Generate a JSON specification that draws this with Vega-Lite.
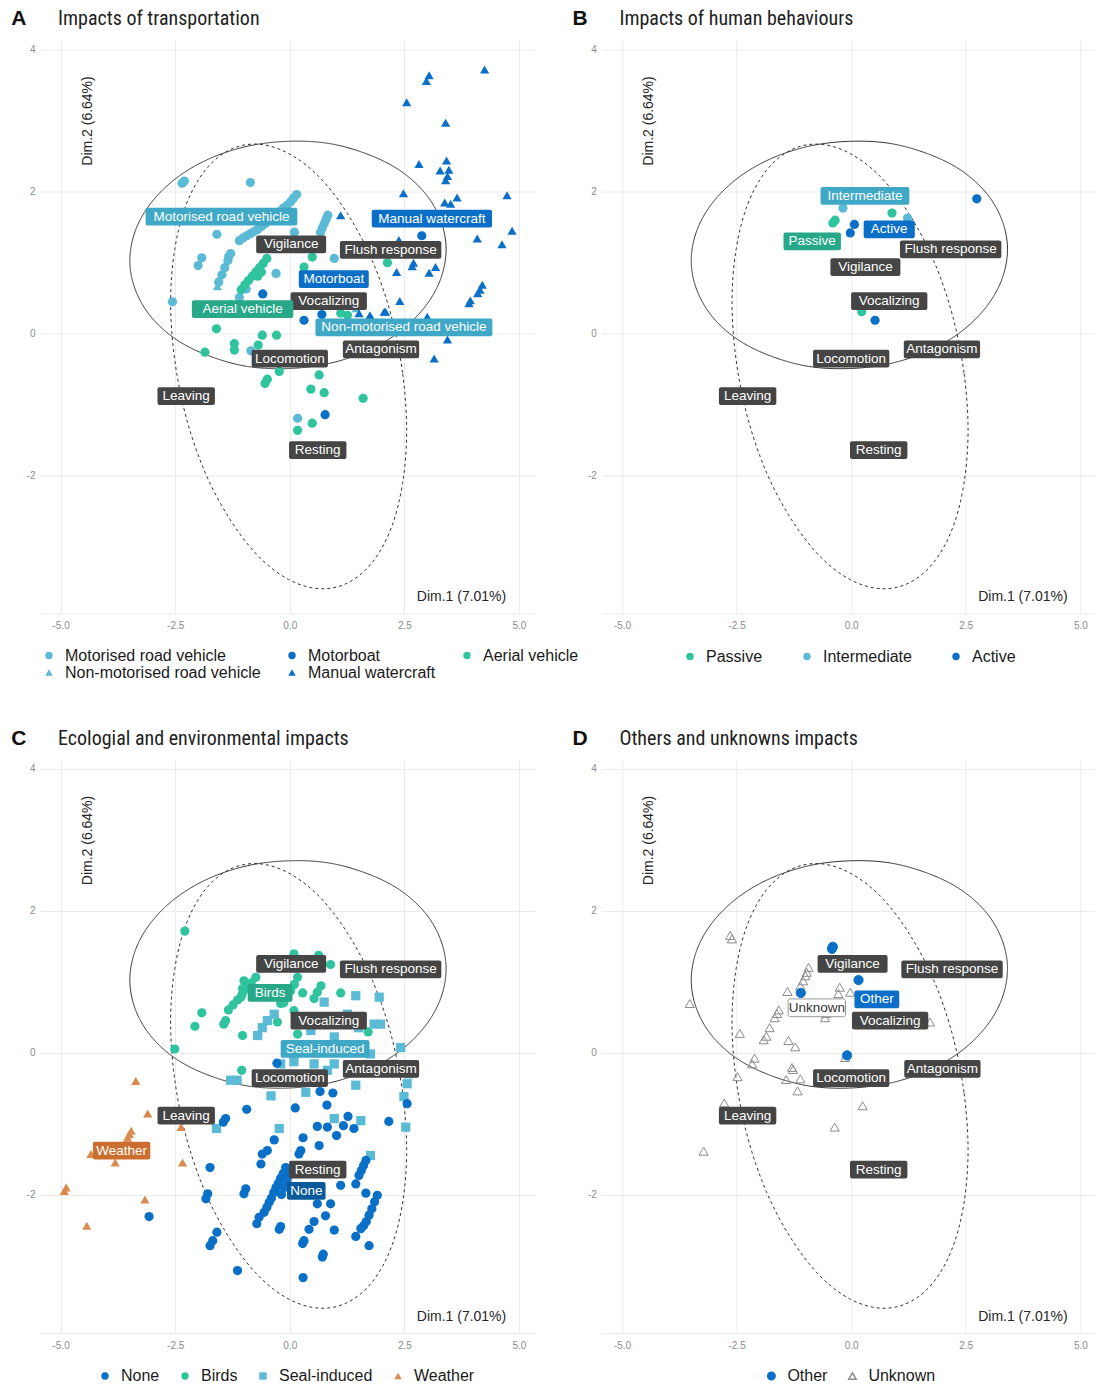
{
"$schema": "https://vega.github.io/schema/vega-lite/v6.json",
"background": "white",
"padding": {"left": 11, "top": 7.5, "right": 0, "bottom": 0},
"bounds": "flush",
"columns": 2,
"spacing": {"row": 146.5, "column": 66.4},
"config": {
  "font": "Liberation Sans",
  "view": {"stroke": null},
  "axis": {"grid": true, "gridColor": "#ebebeb", "gridWidth": 1, "domain": false, "ticks": false, "labelColor": "#8c8c8c", "labelFontSize": 10, "labelFont": "Liberation Sans", "titleFont": "Liberation Sans", "titleFontSize": 14, "titleFontWeight": "normal", "titleColor": "#262626", "labelPadding": 5},
  "axisX": {"domain": true, "domainColor": "#ebebeb", "labelPadding": 7},
  "legend": {"orient": "none", "direction": "horizontal", "labelFontSize": 16, "labelColor": "#1a1a1a", "labelFont": "Liberation Sans", "symbolSize": 55, "labelOffset": 8, "padding": 0, "rowPadding": 2, "labelLimit": 400}
},
"resolve": {"scale": {"x": "independent", "y": "independent", "color": "independent", "shape": "independent", "fill": "independent", "stroke": "independent", "strokeDash": "independent"}},
"datasets": {
  "T": [{"p":"A","k":"A","t":"Impacts of transportation"},{"p":"B","k":"B","t":"Impacts of human behaviours"},{"p":"C","k":"C","t":"Ecologial and environmental impacts"},{"p":"D","k":"D","t":"Others and unknowns impacts"}],
  "ell": [
    {"e":"s","o":0,"x":3.41,"y":1.18},{"e":"s","o":1,"x":3.29,"y":1.59},{"e":"s","o":2,"x":2.95,"y":1.97},{"e":"s","o":3,"x":2.40,"y":2.29},{"e":"s","o":4,"x":1.69,"y":2.52},{"e":"s","o":5,"x":0.85,"y":2.67},{"e":"s","o":6,"x":-0.04,"y":2.70},{"e":"s","o":7,"x":-0.93,"y":2.63},{"e":"s","o":8,"x":-1.77,"y":2.45},{"e":"s","o":9,"x":-2.48,"y":2.18},{"e":"s","o":10,"x":-3.03,"y":1.83},{"e":"s","o":11,"x":-3.37,"y":1.44},{"e":"s","o":12,"x":-3.49,"y":1.02},{"e":"s","o":13,"x":-3.37,"y":0.61},{"e":"s","o":14,"x":-3.03,"y":0.23},{"e":"s","o":15,"x":-2.48,"y":-0.09},{"e":"s","o":16,"x":-1.77,"y":-0.32},{"e":"s","o":17,"x":-0.93,"y":-0.47},{"e":"s","o":18,"x":-0.04,"y":-0.50},{"e":"s","o":19,"x":0.85,"y":-0.43},{"e":"s","o":20,"x":1.69,"y":-0.25},{"e":"s","o":21,"x":2.40,"y":0.02},{"e":"s","o":22,"x":2.95,"y":0.37},{"e":"s","o":23,"x":3.29,"y":0.76},
    {"e":"d","o":0,"x":2.55,"y":-1.37},{"e":"d","o":1,"x":2.46,"y":-0.56},{"e":"d","o":2,"x":2.21,"y":0.25},{"e":"d","o":3,"x":1.80,"y":1.02},{"e":"d","o":4,"x":1.26,"y":1.68},{"e":"d","o":5,"x":0.64,"y":2.20},{"e":"d","o":6,"x":-0.03,"y":2.53},{"e":"d","o":7,"x":-0.69,"y":2.66},{"e":"d","o":8,"x":-1.31,"y":2.58},{"e":"d","o":9,"x":-1.85,"y":2.29},{"e":"d","o":10,"x":-2.26,"y":1.81},{"e":"d","o":11,"x":-2.51,"y":1.18},{"e":"d","o":12,"x":-2.60,"y":0.43},{"e":"d","o":13,"x":-2.51,"y":-0.38},{"e":"d","o":14,"x":-2.26,"y":-1.19},{"e":"d","o":15,"x":-1.85,"y":-1.96},{"e":"d","o":16,"x":-1.31,"y":-2.62},{"e":"d","o":17,"x":-0.69,"y":-3.14},{"e":"d","o":18,"x":-0.03,"y":-3.47},{"e":"d","o":19,"x":0.64,"y":-3.60},{"e":"d","o":20,"x":1.26,"y":-3.52},{"e":"d","o":21,"x":1.80,"y":-3.23},{"e":"d","o":22,"x":2.21,"y":-2.75},{"e":"d","o":23,"x":2.46,"y":-2.12}
  ],
  "A": [
    {"x":-2.35,"y":2.11,"c":"Motorised road vehicle"},{"x":-2.3,"y":2.14,"c":"Motorised road vehicle"},{"x":-0.86,"y":2.12,"c":"Motorised road vehicle"},{"x":0.15,"y":1.95,"c":"Motorised road vehicle"},{"x":0.08,"y":1.9,"c":"Motorised road vehicle"},{"x":0.02,"y":1.85,"c":"Motorised road vehicle"},{"x":-0.06,"y":1.8,"c":"Motorised road vehicle"},{"x":-0.14,"y":1.76,"c":"Motorised road vehicle"},{"x":-0.22,"y":1.71,"c":"Motorised road vehicle"},{"x":-0.3,"y":1.66,"c":"Motorised road vehicle"},{"x":-0.38,"y":1.62,"c":"Motorised road vehicle"},{"x":-0.46,"y":1.58,"c":"Motorised road vehicle"},{"x":-0.54,"y":1.54,"c":"Motorised road vehicle"},{"x":-0.62,"y":1.5,"c":"Motorised road vehicle"},{"x":-0.7,"y":1.46,"c":"Motorised road vehicle"},{"x":-0.78,"y":1.43,"c":"Motorised road vehicle"},{"x":-0.86,"y":1.4,"c":"Motorised road vehicle"},{"x":-0.94,"y":1.37,"c":"Motorised road vehicle"},{"x":-1.02,"y":1.34,"c":"Motorised road vehicle"},{"x":-1.1,"y":1.3,"c":"Motorised road vehicle"},{"x":0.83,"y":1.66,"c":"Motorised road vehicle"},{"x":0.79,"y":1.6,"c":"Motorised road vehicle"},{"x":0.75,"y":1.54,"c":"Motorised road vehicle"},{"x":0.71,"y":1.48,"c":"Motorised road vehicle"},{"x":0.67,"y":1.42,"c":"Motorised road vehicle"},{"x":0.1,"y":1.42,"c":"Motorised road vehicle"},{"x":-1.59,"y":1.39,"c":"Motorised road vehicle"},{"x":-1.92,"y":1.06,"c":"Motorised road vehicle"},{"x":-2.0,"y":0.95,"c":"Motorised road vehicle"},{"x":-1.33,"y":1.08,"c":"Motorised road vehicle"},{"x":-1.29,"y":1.12,"c":"Motorised road vehicle"},{"x":-1.35,"y":1.02,"c":"Motorised road vehicle"},{"x":-1.42,"y":0.92,"c":"Motorised road vehicle"},{"x":-1.48,"y":0.82,"c":"Motorised road vehicle"},{"x":-1.55,"y":0.72,"c":"Motorised road vehicle"},{"x":-2.56,"y":0.44,"c":"Motorised road vehicle"},{"x":-0.3,"y":0.84,"c":"Motorised road vehicle"},{"x":0.97,"y":1.05,"c":"Motorised road vehicle"},{"x":-0.85,"y":-0.25,"c":"Motorised road vehicle"},{"x":0.17,"y":-1.2,"c":"Motorised road vehicle"},{"x":-1.1,"y":0.5,"c":"Motorised road vehicle"},{"x":-0.95,"y":0.62,"c":"Motorised road vehicle"},
    {"x":-1.58,"y":0.66,"c":"Non-motorised road vehicle"},{"x":1.45,"y":0.35,"c":"Non-motorised road vehicle"},
    {"x":-0.5,"y":1.05,"c":"Aerial vehicle"},{"x":-0.58,"y":0.98,"c":"Aerial vehicle"},{"x":-0.66,"y":0.92,"c":"Aerial vehicle"},{"x":-0.74,"y":0.86,"c":"Aerial vehicle"},{"x":-0.82,"y":0.8,"c":"Aerial vehicle"},{"x":-0.9,"y":0.74,"c":"Aerial vehicle"},{"x":-0.98,"y":0.68,"c":"Aerial vehicle"},{"x":-1.06,"y":0.61,"c":"Aerial vehicle"},{"x":-0.7,"y":0.8,"c":"Aerial vehicle"},{"x":-0.62,"y":0.86,"c":"Aerial vehicle"},{"x":0.49,"y":1.07,"c":"Aerial vehicle"},{"x":0.31,"y":0.93,"c":"Aerial vehicle"},{"x":2.13,"y":0.99,"c":"Aerial vehicle"},{"x":1.11,"y":0.28,"c":"Aerial vehicle"},{"x":1.26,"y":0.25,"c":"Aerial vehicle"},{"x":-1.6,"y":0.06,"c":"Aerial vehicle"},{"x":-0.6,"y":-0.03,"c":"Aerial vehicle"},{"x":-0.29,"y":-0.03,"c":"Aerial vehicle"},{"x":-1.21,"y":-0.15,"c":"Aerial vehicle"},{"x":-1.21,"y":-0.24,"c":"Aerial vehicle"},{"x":-0.69,"y":-0.17,"c":"Aerial vehicle"},{"x":-1.85,"y":-0.27,"c":"Aerial vehicle"},{"x":-0.23,"y":-0.54,"c":"Aerial vehicle"},{"x":-0.49,"y":-0.65,"c":"Aerial vehicle"},{"x":-0.54,"y":-0.71,"c":"Aerial vehicle"},{"x":0.64,"y":-0.59,"c":"Aerial vehicle"},{"x":0.46,"y":-0.79,"c":"Aerial vehicle"},{"x":0.75,"y":-0.84,"c":"Aerial vehicle"},{"x":1.6,"y":-0.92,"c":"Aerial vehicle"},{"x":0.49,"y":-1.27,"c":"Aerial vehicle"},{"x":0.17,"y":-1.37,"c":"Aerial vehicle"},{"x":-1.3,"y":0.4,"c":"Aerial vehicle"},{"x":-1.15,"y":0.3,"c":"Aerial vehicle"},
    {"x":-0.59,"y":0.55,"c":"Motorboat"},{"x":2.88,"y":1.37,"c":"Motorboat"},{"x":0.31,"y":0.18,"c":"Motorboat"},{"x":0.7,"y":0.26,"c":"Motorboat"},{"x":0.77,"y":-1.15,"c":"Motorboat"},
    {"x":4.25,"y":3.71,"c":"Manual watercraft"},{"x":3.04,"y":3.63,"c":"Manual watercraft"},{"x":2.98,"y":3.55,"c":"Manual watercraft"},{"x":2.55,"y":3.25,"c":"Manual watercraft"},{"x":3.4,"y":2.96,"c":"Manual watercraft"},{"x":2.82,"y":2.38,"c":"Manual watercraft"},{"x":3.42,"y":2.43,"c":"Manual watercraft"},{"x":3.47,"y":2.3,"c":"Manual watercraft"},{"x":3.28,"y":2.29,"c":"Manual watercraft"},{"x":3.44,"y":2.21,"c":"Manual watercraft"},{"x":3.4,"y":2.15,"c":"Manual watercraft"},{"x":2.48,"y":1.97,"c":"Manual watercraft"},{"x":3.38,"y":1.84,"c":"Manual watercraft"},{"x":3.51,"y":1.82,"c":"Manual watercraft"},{"x":3.65,"y":1.91,"c":"Manual watercraft"},{"x":4.74,"y":1.94,"c":"Manual watercraft"},{"x":4.85,"y":1.44,"c":"Manual watercraft"},{"x":4.09,"y":1.33,"c":"Manual watercraft"},{"x":4.63,"y":1.25,"c":"Manual watercraft"},{"x":1.11,"y":1.66,"c":"Manual watercraft"},{"x":2.38,"y":1.31,"c":"Manual watercraft"},{"x":2.7,"y":0.99,"c":"Manual watercraft"},{"x":2.67,"y":0.94,"c":"Manual watercraft"},{"x":3.18,"y":0.93,"c":"Manual watercraft"},{"x":3.04,"y":0.85,"c":"Manual watercraft"},{"x":2.33,"y":0.86,"c":"Manual watercraft"},{"x":4.2,"y":0.68,"c":"Manual watercraft"},{"x":4.15,"y":0.61,"c":"Manual watercraft"},{"x":4.1,"y":0.56,"c":"Manual watercraft"},{"x":3.94,"y":0.46,"c":"Manual watercraft"},{"x":3.91,"y":0.42,"c":"Manual watercraft"},{"x":2.4,"y":0.45,"c":"Manual watercraft"},{"x":2.09,"y":0.3,"c":"Manual watercraft"},{"x":3.0,"y":0.23,"c":"Manual watercraft"},{"x":3.44,"y":-0.09,"c":"Manual watercraft"},{"x":3.15,"y":-0.36,"c":"Manual watercraft"},{"x":1.51,"y":0.28,"c":"Manual watercraft"},{"x":2.06,"y":0.3,"c":"Manual watercraft"},{"x":1.75,"y":0.25,"c":"Manual watercraft"}
  ],
  "B": [
    {"x":0.89,"y":1.69,"c":"Passive"},{"x":-0.35,"y":1.59,"c":"Passive"},{"x":-0.4,"y":1.55,"c":"Passive"},{"x":0.23,"y":0.3,"c":"Passive"},
    {"x":-0.18,"y":1.76,"c":"Intermediate"},{"x":1.23,"y":1.62,"c":"Intermediate"},
    {"x":2.74,"y":1.89,"c":"Active"},{"x":0.07,"y":1.53,"c":"Active"},{"x":-0.02,"y":1.41,"c":"Active"},{"x":0.52,"y":0.18,"c":"Active"}
  ],
  "C": [
    {"x":-2.29,"y":1.71,"c":"Birds"},{"x":-2.51,"y":0.05,"c":"Birds"},{"x":-1.92,"y":0.56,"c":"Birds"},{"x":-2.07,"y":0.37,"c":"Birds"},{"x":-1.44,"y":0.4,"c":"Birds"},{"x":-1.4,"y":0.45,"c":"Birds"},{"x":-1.03,"y":0.24,"c":"Birds"},{"x":-0.74,"y":1.06,"c":"Birds"},{"x":-0.84,"y":0.98,"c":"Birds"},{"x":-0.94,"y":0.9,"c":"Birds"},{"x":-1.04,"y":0.82,"c":"Birds"},{"x":-1.14,"y":0.74,"c":"Birds"},{"x":-1.24,"y":0.67,"c":"Birds"},{"x":-1.34,"y":0.6,"c":"Birds"},{"x":-1.0,"y":1.01,"c":"Birds"},{"x":-1.03,"y":0.9,"c":"Birds"},{"x":-1.07,"y":0.78,"c":"Birds"},{"x":-0.63,"y":1.19,"c":"Birds"},{"x":0.09,"y":1.39,"c":"Birds"},{"x":0.89,"y":1.24,"c":"Birds"},{"x":0.17,"y":1.06,"c":"Birds"},{"x":0.1,"y":0.96,"c":"Birds"},{"x":0.02,"y":0.87,"c":"Birds"},{"x":-0.06,"y":0.78,"c":"Birds"},{"x":-0.13,"y":0.7,"c":"Birds"},{"x":-0.2,"y":0.69,"c":"Birds"},{"x":0.68,"y":0.94,"c":"Birds"},{"x":0.6,"y":0.85,"c":"Birds"},{"x":0.53,"y":0.76,"c":"Birds"},{"x":0.28,"y":0.84,"c":"Birds"},{"x":1.11,"y":0.84,"c":"Birds"},{"x":0.09,"y":0.59,"c":"Birds"},{"x":-0.27,"y":0.43,"c":"Birds"},{"x":0.17,"y":0.26,"c":"Birds"},{"x":1.71,"y":0.29,"c":"Birds"},{"x":-1.05,"y":-0.25,"c":"Birds"},{"x":0.63,"y":1.37,"c":"Birds"},{"x":-0.3,"y":1.25,"c":"Birds"},
    {"x":0.75,"y":0.71,"c":"Seal-induced"},{"x":1.44,"y":0.8,"c":"Seal-induced"},{"x":1.95,"y":0.78,"c":"Seal-induced"},{"x":-0.49,"y":0.45,"c":"Seal-induced"},{"x":-0.6,"y":0.35,"c":"Seal-induced"},{"x":-0.7,"y":0.24,"c":"Seal-induced"},{"x":-0.34,"y":0.54,"c":"Seal-induced"},{"x":0.46,"y":0.31,"c":"Seal-induced"},{"x":0.97,"y":0.22,"c":"Seal-induced"},{"x":1.26,"y":0.54,"c":"Seal-induced"},{"x":1.84,"y":0.4,"c":"Seal-induced"},{"x":1.98,"y":0.4,"c":"Seal-induced"},{"x":2.42,"y":0.07,"c":"Seal-induced"},{"x":1.76,"y":-0.02,"c":"Seal-induced"},{"x":0.09,"y":-0.02,"c":"Seal-induced"},{"x":0.53,"y":-0.16,"c":"Seal-induced"},{"x":0.82,"y":-0.25,"c":"Seal-induced"},{"x":1.55,"y":0.03,"c":"Seal-induced"},{"x":-1.29,"y":-0.39,"c":"Seal-induced"},{"x":-1.15,"y":-0.39,"c":"Seal-induced"},{"x":-0.41,"y":-0.61,"c":"Seal-induced"},{"x":0.35,"y":-0.56,"c":"Seal-induced"},{"x":1.44,"y":-0.46,"c":"Seal-induced"},{"x":2.56,"y":-0.44,"c":"Seal-induced"},{"x":2.49,"y":-0.62,"c":"Seal-induced"},{"x":2.6,"y":-0.3,"c":"Seal-induced"},{"x":0.97,"y":-0.93,"c":"Seal-induced"},{"x":1.55,"y":-0.96,"c":"Seal-induced"},{"x":-0.23,"y":-1.07,"c":"Seal-induced"},{"x":-1.6,"y":-1.07,"c":"Seal-induced"},{"x":2.53,"y":-1.05,"c":"Seal-induced"},{"x":1.76,"y":-1.45,"c":"Seal-induced"},{"x":-0.2,"y":-0.16,"c":"Seal-induced"},{"x":0.09,"y":-0.13,"c":"Seal-induced"},{"x":0.97,"y":-0.16,"c":"Seal-induced"},{"x":0.3,"y":0.1,"c":"Seal-induced"},{"x":1.2,"y":0.1,"c":"Seal-induced"},{"x":1.5,"y":0.35,"c":"Seal-induced"},{"x":0.7,"y":0.45,"c":"Seal-induced"},
    {"x":-0.28,"y":-0.15,"c":"None"},{"x":0.66,"y":-0.55,"c":"None"},{"x":0.94,"y":-0.57,"c":"None"},{"x":2.56,"y":-0.72,"c":"None"},{"x":-0.94,"y":-0.8,"c":"None"},{"x":0.12,"y":-0.78,"c":"None"},{"x":0.81,"y":-0.74,"c":"None"},{"x":-1.45,"y":-0.98,"c":"None"},{"x":-1.4,"y":-0.93,"c":"None"},{"x":2.16,"y":-0.97,"c":"None"},{"x":0.6,"y":-1.04,"c":"None"},{"x":0.82,"y":-1.05,"c":"None"},{"x":1.02,"y":-1.17,"c":"None"},{"x":1.27,"y":-0.9,"c":"None"},{"x":1.17,"y":-1.03,"c":"None"},{"x":1.4,"y":-1.07,"c":"None"},{"x":-0.34,"y":-1.23,"c":"None"},{"x":0.29,"y":-1.2,"c":"None"},{"x":0.64,"y":-1.31,"c":"None"},{"x":-0.6,"y":-1.43,"c":"None"},{"x":-0.49,"y":-1.38,"c":"None"},{"x":0.2,"y":-1.43,"c":"None"},{"x":0.24,"y":-1.38,"c":"None"},{"x":-0.63,"y":-1.57,"c":"None"},{"x":-1.74,"y":-1.62,"c":"None"},{"x":-0.09,"y":-1.62,"c":"None"},{"x":-0.14,"y":-1.7,"c":"None"},{"x":-0.2,"y":-1.77,"c":"None"},{"x":-0.25,"y":-1.84,"c":"None"},{"x":-0.3,"y":-1.9,"c":"None"},{"x":-0.35,"y":-1.97,"c":"None"},{"x":-0.4,"y":-2.05,"c":"None"},{"x":-0.45,"y":-2.11,"c":"None"},{"x":-0.5,"y":-2.18,"c":"None"},{"x":-0.56,"y":-2.25,"c":"None"},{"x":0.0,"y":-1.72,"c":"None"},{"x":-0.06,"y":-1.8,"c":"None"},{"x":-0.12,"y":-1.9,"c":"None"},{"x":-0.18,"y":-2.0,"c":"None"},{"x":-0.96,"y":-1.92,"c":"None"},{"x":-1.0,"y":-1.99,"c":"None"},{"x":-1.79,"y":-1.99,"c":"None"},{"x":-1.83,"y":-2.06,"c":"None"},{"x":-3.07,"y":-2.31,"c":"None"},{"x":1.11,"y":-1.87,"c":"None"},{"x":1.44,"y":-1.85,"c":"None"},{"x":1.66,"y":-1.52,"c":"None"},{"x":1.61,"y":-1.59,"c":"None"},{"x":1.56,"y":-1.66,"c":"None"},{"x":1.51,"y":-1.73,"c":"None"},{"x":1.91,"y":-2.01,"c":"None"},{"x":1.85,"y":-2.1,"c":"None"},{"x":1.79,"y":-2.2,"c":"None"},{"x":1.73,"y":-2.29,"c":"None"},{"x":1.67,"y":-2.38,"c":"None"},{"x":1.61,"y":-2.44,"c":"None"},{"x":1.55,"y":-2.48,"c":"None"},{"x":1.66,"y":-1.98,"c":"None"},{"x":0.89,"y":-2.13,"c":"None"},{"x":0.78,"y":-2.3,"c":"None"},{"x":0.6,"y":-2.13,"c":"None"},{"x":0.53,"y":-2.38,"c":"None"},{"x":0.42,"y":-2.49,"c":"None"},{"x":0.97,"y":-2.5,"c":"None"},{"x":1.44,"y":-2.59,"c":"None"},{"x":1.73,"y":-2.72,"c":"None"},{"x":0.31,"y":-2.65,"c":"None"},{"x":0.28,"y":-2.69,"c":"None"},{"x":0.73,"y":-2.84,"c":"None"},{"x":0.71,"y":-2.88,"c":"None"},{"x":-0.2,"y":-2.45,"c":"None"},{"x":-0.23,"y":-2.49,"c":"None"},{"x":-0.67,"y":-2.32,"c":"None"},{"x":-0.72,"y":-2.41,"c":"None"},{"x":-1.59,"y":-2.53,"c":"None"},{"x":-1.68,"y":-2.65,"c":"None"},{"x":-1.74,"y":-2.72,"c":"None"},{"x":-1.14,"y":-3.07,"c":"None"},{"x":0.29,"y":-3.17,"c":"None"},
    {"x":-3.36,"y":-0.4,"c":"Weather"},{"x":-3.1,"y":-0.86,"c":"Weather"},{"x":-2.37,"y":-1.05,"c":"Weather"},{"x":-3.46,"y":-1.1,"c":"Weather"},{"x":-3.5,"y":-1.15,"c":"Weather"},{"x":-3.54,"y":-1.2,"c":"Weather"},{"x":-4.34,"y":-1.43,"c":"Weather"},{"x":-3.81,"y":-1.55,"c":"Weather"},{"x":-2.34,"y":-1.55,"c":"Weather"},{"x":-4.88,"y":-1.9,"c":"Weather"},{"x":-4.92,"y":-1.95,"c":"Weather"},{"x":-3.16,"y":-2.07,"c":"Weather"},{"x":-4.43,"y":-2.44,"c":"Weather"}
  ],
  "D": [
    {"x":-2.64,"y":1.65,"c":"Unknown"},{"x":-2.6,"y":1.6,"c":"Unknown"},{"x":-3.52,"y":0.69,"c":"Unknown"},{"x":-0.93,"y":1.2,"c":"Unknown"},{"x":-0.97,"y":1.13,"c":"Unknown"},{"x":-1.0,"y":1.08,"c":"Unknown"},{"x":-1.05,"y":1.01,"c":"Unknown"},{"x":-1.11,"y":0.94,"c":"Unknown"},{"x":-1.39,"y":0.86,"c":"Unknown"},{"x":-0.25,"y":0.92,"c":"Unknown"},{"x":-0.02,"y":0.85,"c":"Unknown"},{"x":-0.28,"y":0.83,"c":"Unknown"},{"x":-1.58,"y":0.6,"c":"Unknown"},{"x":-1.62,"y":0.55,"c":"Unknown"},{"x":-1.67,"y":0.49,"c":"Unknown"},{"x":-0.57,"y":0.49,"c":"Unknown"},{"x":-0.55,"y":0.55,"c":"Unknown"},{"x":-1.78,"y":0.35,"c":"Unknown"},{"x":-2.43,"y":0.27,"c":"Unknown"},{"x":-1.85,"y":0.23,"c":"Unknown"},{"x":-1.91,"y":0.18,"c":"Unknown"},{"x":-1.37,"y":0.17,"c":"Unknown"},{"x":-1.22,"y":0.08,"c":"Unknown"},{"x":1.72,"y":0.43,"c":"Unknown"},{"x":-2.11,"y":-0.08,"c":"Unknown"},{"x":-2.16,"y":-0.16,"c":"Unknown"},{"x":-1.29,"y":-0.21,"c":"Unknown"},{"x":-1.27,"y":-0.24,"c":"Unknown"},{"x":-2.48,"y":-0.34,"c":"Unknown"},{"x":-1.42,"y":-0.38,"c":"Unknown"},{"x":-1.11,"y":-0.37,"c":"Unknown"},{"x":-1.17,"y":-0.54,"c":"Unknown"},{"x":-0.13,"y":-0.07,"c":"Unknown"},{"x":0.25,"y":-0.75,"c":"Unknown"},{"x":-2.77,"y":-0.71,"c":"Unknown"},{"x":-0.36,"y":-1.05,"c":"Unknown"},{"x":-3.22,"y":-1.39,"c":"Unknown"},
    {"x":-0.4,"y":1.49,"c":"Other"},{"x":-0.42,"y":1.46,"c":"Other"},{"x":0.16,"y":1.02,"c":"Other"},{"x":-1.1,"y":0.84,"c":"Other"},{"x":-0.09,"y":-0.04,"c":"Other"}
  ],
  "LA": [{"t":"Motorised road vehicle","x":-1.49,"y":1.64},{"t":"Vigilance","x":0.03,"y":1.25},{"t":"Flush response","x":2.2,"y":1.17},{"t":"Manual watercraft","x":3.1,"y":1.61},{"t":"Motorboat","x":0.96,"y":0.76},{"t":"Vocalizing","x":0.85,"y":0.45},{"t":"Aerial vehicle","x":-1.03,"y":0.335},{"t":"Non-motorised road vehicle","x":2.49,"y":0.08},{"t":"Antagonism","x":1.99,"y":-0.23},{"t":"Locomotion","x":0.0,"y":-0.36},{"t":"Leaving","x":-2.26,"y":-0.89},{"t":"Resting","x":0.61,"y":-1.65}],
  "LB": [{"t":"Intermediate","x":0.3,"y":1.93},{"t":"Active","x":0.83,"y":1.46},{"t":"Passive","x":-0.85,"y":1.29},{"t":"Vigilance","x":0.31,"y":0.93},{"t":"Flush response","x":2.17,"y":1.18},{"t":"Vocalizing","x":0.83,"y":0.45},{"t":"Antagonism","x":1.98,"y":-0.23},{"t":"Locomotion","x":0.0,"y":-0.36},{"t":"Leaving","x":-2.26,"y":-0.89},{"t":"Resting","x":0.6,"y":-1.65}],
  "LC": [{"t":"Vigilance","x":0.03,"y":1.25},{"t":"Flush response","x":2.2,"y":1.17},{"t":"Birds","x":-0.43,"y":0.84},{"t":"Vocalizing","x":0.85,"y":0.45},{"t":"Seal-induced","x":0.77,"y":0.05},{"t":"Antagonism","x":1.99,"y":-0.23},{"t":"Locomotion","x":0.0,"y":-0.36},{"t":"Leaving","x":-2.26,"y":-0.89},{"t":"Weather","x":-3.67,"y":-1.38},{"t":"Resting","x":0.61,"y":-1.65},{"t":"None","x":0.36,"y":-1.95}],
  "LD": [{"t":"Vigilance","x":0.03,"y":1.25},{"t":"Flush response","x":2.2,"y":1.17},{"t":"Other","x":0.56,"y":0.75},{"t":"Unknown","x":-0.75,"y":0.63},{"t":"Vocalizing","x":0.85,"y":0.45},{"t":"Antagonism","x":1.99,"y":-0.23},{"t":"Locomotion","x":0.0,"y":-0.36},{"t":"Leaving","x":-2.26,"y":-0.89},{"t":"Resting","x":0.6,"y":-1.65}]
},
"concat": [
  {
    "width": 495, "height": 573,
    "layer": [
      {
        "encoding": {
          "x": {"field": "x", "type": "quantitative", "scale": {"domain": [-5.45, 5.35], "nice": false, "zero": false}, "axis": {"values": [-5, -2.5, 0, 2.5, 5], "format": ".1f", "labelExpr": "replace(datum.label, '\u2212', '-')", "title": "Dim.1 (7.01%)", "titleX": 421, "titleY": -17, "titleAlign": "center", "titleBaseline": "middle"}},
          "y": {"field": "y", "type": "quantitative", "scale": {"domain": [-3.95, 4.12], "nice": false, "zero": false}, "axis": {"values": [-2, 0, 2, 4], "format": "d", "labelExpr": "replace(datum.label, '\u2212', '-')", "title": "Dim.2 (6.64%)", "titleX": 47, "titleY": 80, "titleAngle": 270, "titleAlign": "center", "titleBaseline": "middle"}}
        },
        "layer": [
          {"data": {"name": "ell"}, "mark": {"type": "line", "interpolate": "cardinal-closed", "color": "#333333", "strokeWidth": 1}, "encoding": {"order": {"field": "o", "type": "quantitative"}, "strokeDash": {"field": "e", "type": "nominal", "scale": {"domain": ["s", "d"], "range": [[1, 0], [3, 3]]}, "legend": null}}},
          {"data": {"name": "A"}, "mark": {"type": "point", "filled": true, "opacity": 1, "size": 85},
           "encoding": {
             "color": {"field": "c", "type": "nominal", "scale": {"domain": ["Motorised road vehicle", "Motorboat", "Aerial vehicle", "Non-motorised road vehicle", "Manual watercraft"], "range": ["#5bbad5", "#0a6fc6", "#2fc49e", "#5bbad5", "#0a6fc6"]}, "legend": {"title": null, "columns": 3, "legendX": 1, "legendY": 607, "columnPadding": 23, "rowPadding": 1}},
             "shape": {"field": "c", "type": "nominal", "scale": {"domain": ["Motorised road vehicle", "Motorboat", "Aerial vehicle", "Non-motorised road vehicle", "Manual watercraft"], "range": ["circle", "circle", "circle", "triangle-up", "triangle-up"]}, "legend": {"title": null, "columns": 3, "legendX": 1, "legendY": 607, "columnPadding": 23, "rowPadding": 1}}
           }},
          {"data": {"name": "LA"}, "transform": [{"calculate": "length(datum.t)*0.0686+0.146", "as": "hw"}, {"calculate": "datum.x-datum.hw", "as": "x1"}, {"calculate": "datum.x+datum.hw", "as": "x2"}, {"calculate": "datum.y-0.125", "as": "y1"}, {"calculate": "datum.y+0.125", "as": "y2"}],
           "mark": {"type": "rect", "cornerRadius": 2},
           "encoding": {"x": {"field": "x1", "type": "quantitative"}, "x2": {"field": "x2"}, "y": {"field": "y1", "type": "quantitative"}, "y2": {"field": "y2"},
             "fill": {"condition": [{"test": "indexof(['Motorised road vehicle','Non-motorised road vehicle','Intermediate','Seal-induced'], datum.t) >= 0", "value": "#3fa8c6"}, {"test": "indexof(['Manual watercraft','Motorboat','Active','Other'], datum.t) >= 0", "value": "#0b6fc8"}, {"test": "indexof(['Aerial vehicle','Passive','Birds'], datum.t) >= 0", "value": "#27a888"}, {"test": "datum.t == 'None'", "value": "#0c5a9c"}, {"test": "datum.t == 'Weather'", "value": "#cb6d2e"}, {"test": "datum.t == 'Unknown'", "value": "#ffffff"}], "value": "#454545"},
             "stroke": {"condition": {"test": "datum.t == 'Unknown'", "value": "#999999"}, "value": "transparent"}}},
          {"data": {"name": "LA"}, "mark": {"type": "text", "fontSize": 13.5}, "encoding": {"text": {"field": "t", "type": "nominal"}, "color": {"condition": {"test": "datum.t == 'Unknown'", "value": "#333333"}, "value": "#ffffff"}}}
        ]
      },
      {"data": {"name": "T"}, "transform": [{"filter": "datum.p == 'A'"}], "mark": {"type": "text", "fontSize": 21, "fontWeight": "bold", "align": "left", "baseline": "middle", "color": "#111111"}, "encoding": {"text": {"field": "k", "type": "nominal"}, "x": {"datum": -6.08}, "y": {"datum": 4.42}}},
      {"data": {"name": "T"}, "transform": [{"filter": "datum.p == 'A'"}], "mark": {"type": "text", "font": "Roboto Condensed, DejaVu Sans Condensed, Roboto", "fontSize": 20, "align": "left", "baseline": "middle", "color": "#222222"}, "encoding": {"text": {"field": "t", "type": "nominal"}, "x": {"datum": -5.057}, "y": {"datum": 4.42}}}
    ]
  },
  {
    "width": 495, "height": 573,
    "layer": [
      {
        "encoding": {
          "x": {"field": "x", "type": "quantitative", "scale": {"domain": [-5.45, 5.35], "nice": false, "zero": false}, "axis": {"values": [-5, -2.5, 0, 2.5, 5], "format": ".1f", "labelExpr": "replace(datum.label, '\u2212', '-')", "title": "Dim.1 (7.01%)", "titleX": 421, "titleY": -17, "titleAlign": "center", "titleBaseline": "middle"}},
          "y": {"field": "y", "type": "quantitative", "scale": {"domain": [-3.95, 4.12], "nice": false, "zero": false}, "axis": {"values": [-2, 0, 2, 4], "format": "d", "labelExpr": "replace(datum.label, '\u2212', '-')", "title": "Dim.2 (6.64%)", "titleX": 47, "titleY": 80, "titleAngle": 270, "titleAlign": "center", "titleBaseline": "middle"}}
        },
        "layer": [
          {"data": {"name": "ell"}, "mark": {"type": "line", "interpolate": "cardinal-closed", "color": "#333333", "strokeWidth": 1}, "encoding": {"order": {"field": "o", "type": "quantitative"}, "strokeDash": {"field": "e", "type": "nominal", "scale": {"domain": ["s", "d"], "range": [[1, 0], [3, 3]]}, "legend": null}}},
          {"data": {"name": "B"}, "mark": {"type": "point", "filled": true, "opacity": 1, "size": 85, "shape": "circle"},
           "encoding": {
             "color": {"field": "c", "type": "nominal", "scale": {"domain": ["Passive", "Intermediate", "Active"], "range": ["#2fc49e", "#5bbad5", "#0a6fc6"]}, "legend": {"title": null, "legendX": 80.6, "legendY": 608, "columnPadding": 36, "symbolType": "circle"}}
           }},
          {"data": {"name": "LB"}, "transform": [{"calculate": "length(datum.t)*0.0686+0.146", "as": "hw"}, {"calculate": "datum.x-datum.hw", "as": "x1"}, {"calculate": "datum.x+datum.hw", "as": "x2"}, {"calculate": "datum.y-0.125", "as": "y1"}, {"calculate": "datum.y+0.125", "as": "y2"}],
           "mark": {"type": "rect", "cornerRadius": 2},
           "encoding": {"x": {"field": "x1", "type": "quantitative"}, "x2": {"field": "x2"}, "y": {"field": "y1", "type": "quantitative"}, "y2": {"field": "y2"},
             "fill": {"condition": [{"test": "indexof(['Motorised road vehicle','Non-motorised road vehicle','Intermediate','Seal-induced'], datum.t) >= 0", "value": "#3fa8c6"}, {"test": "indexof(['Manual watercraft','Motorboat','Active','Other'], datum.t) >= 0", "value": "#0b6fc8"}, {"test": "indexof(['Aerial vehicle','Passive','Birds'], datum.t) >= 0", "value": "#27a888"}, {"test": "datum.t == 'None'", "value": "#0c5a9c"}, {"test": "datum.t == 'Weather'", "value": "#cb6d2e"}, {"test": "datum.t == 'Unknown'", "value": "#ffffff"}], "value": "#454545"},
             "stroke": {"condition": {"test": "datum.t == 'Unknown'", "value": "#999999"}, "value": "transparent"}}},
          {"data": {"name": "LB"}, "mark": {"type": "text", "fontSize": 13.5}, "encoding": {"text": {"field": "t", "type": "nominal"}, "color": {"condition": {"test": "datum.t == 'Unknown'", "value": "#333333"}, "value": "#ffffff"}}}
        ]
      },
      {"data": {"name": "T"}, "transform": [{"filter": "datum.p == 'B'"}], "mark": {"type": "text", "fontSize": 21, "fontWeight": "bold", "align": "left", "baseline": "middle", "color": "#111111"}, "encoding": {"text": {"field": "k", "type": "nominal"}, "x": {"datum": -6.08}, "y": {"datum": 4.42}}},
      {"data": {"name": "T"}, "transform": [{"filter": "datum.p == 'B'"}], "mark": {"type": "text", "font": "Roboto Condensed, DejaVu Sans Condensed, Roboto", "fontSize": 20, "align": "left", "baseline": "middle", "color": "#222222"}, "encoding": {"text": {"field": "t", "type": "nominal"}, "x": {"datum": -5.057}, "y": {"datum": 4.42}}}
    ]
  },
  {
    "width": 495, "height": 573,
    "layer": [
      {
        "encoding": {
          "x": {"field": "x", "type": "quantitative", "scale": {"domain": [-5.45, 5.35], "nice": false, "zero": false}, "axis": {"values": [-5, -2.5, 0, 2.5, 5], "format": ".1f", "labelExpr": "replace(datum.label, '\u2212', '-')", "title": "Dim.1 (7.01%)", "titleX": 421, "titleY": -17, "titleAlign": "center", "titleBaseline": "middle"}},
          "y": {"field": "y", "type": "quantitative", "scale": {"domain": [-3.95, 4.12], "nice": false, "zero": false}, "axis": {"values": [-2, 0, 2, 4], "format": "d", "labelExpr": "replace(datum.label, '\u2212', '-')", "title": "Dim.2 (6.64%)", "titleX": 47, "titleY": 80, "titleAngle": 270, "titleAlign": "center", "titleBaseline": "middle"}}
        },
        "layer": [
          {"data": {"name": "ell"}, "mark": {"type": "line", "interpolate": "cardinal-closed", "color": "#333333", "strokeWidth": 1}, "encoding": {"order": {"field": "o", "type": "quantitative"}, "strokeDash": {"field": "e", "type": "nominal", "scale": {"domain": ["s", "d"], "range": [[1, 0], [3, 3]]}, "legend": null}}},
          {"data": {"name": "C"}, "mark": {"type": "point", "filled": true, "opacity": 1, "size": 85},
           "encoding": {
             "color": {"field": "c", "type": "nominal", "scale": {"domain": ["None", "Birds", "Seal-induced", "Weather"], "range": ["#0a6fc6", "#2fc49e", "#5bbad5", "#db8a4f"]}, "legend": {"title": null, "legendX": 57, "legendY": 608, "columnPadding": 17}},
             "shape": {"field": "c", "type": "nominal", "scale": {"domain": ["None", "Birds", "Seal-induced", "Weather"], "range": ["circle", "circle", "square", "triangle-up"]}, "legend": {"title": null, "legendX": 57, "legendY": 608, "columnPadding": 17}}
           }},
          {"data": {"name": "LC"}, "transform": [{"calculate": "length(datum.t)*0.0686+0.146", "as": "hw"}, {"calculate": "datum.x-datum.hw", "as": "x1"}, {"calculate": "datum.x+datum.hw", "as": "x2"}, {"calculate": "datum.y-0.125", "as": "y1"}, {"calculate": "datum.y+0.125", "as": "y2"}],
           "mark": {"type": "rect", "cornerRadius": 2},
           "encoding": {"x": {"field": "x1", "type": "quantitative"}, "x2": {"field": "x2"}, "y": {"field": "y1", "type": "quantitative"}, "y2": {"field": "y2"},
             "fill": {"condition": [{"test": "indexof(['Motorised road vehicle','Non-motorised road vehicle','Intermediate','Seal-induced'], datum.t) >= 0", "value": "#3fa8c6"}, {"test": "indexof(['Manual watercraft','Motorboat','Active','Other'], datum.t) >= 0", "value": "#0b6fc8"}, {"test": "indexof(['Aerial vehicle','Passive','Birds'], datum.t) >= 0", "value": "#27a888"}, {"test": "datum.t == 'None'", "value": "#0c5a9c"}, {"test": "datum.t == 'Weather'", "value": "#cb6d2e"}, {"test": "datum.t == 'Unknown'", "value": "#ffffff"}], "value": "#454545"},
             "stroke": {"condition": {"test": "datum.t == 'Unknown'", "value": "#999999"}, "value": "transparent"}}},
          {"data": {"name": "LC"}, "mark": {"type": "text", "fontSize": 13.5}, "encoding": {"text": {"field": "t", "type": "nominal"}, "color": {"condition": {"test": "datum.t == 'Unknown'", "value": "#333333"}, "value": "#ffffff"}}}
        ]
      },
      {"data": {"name": "T"}, "transform": [{"filter": "datum.p == 'C'"}], "mark": {"type": "text", "fontSize": 21, "fontWeight": "bold", "align": "left", "baseline": "middle", "color": "#111111"}, "encoding": {"text": {"field": "k", "type": "nominal"}, "x": {"datum": -6.08}, "y": {"datum": 4.42}}},
      {"data": {"name": "T"}, "transform": [{"filter": "datum.p == 'C'"}], "mark": {"type": "text", "font": "Roboto Condensed, DejaVu Sans Condensed, Roboto", "fontSize": 20, "align": "left", "baseline": "middle", "color": "#222222"}, "encoding": {"text": {"field": "t", "type": "nominal"}, "x": {"datum": -5.057}, "y": {"datum": 4.42}}}
    ]
  },
  {
    "width": 495, "height": 573,
    "layer": [
      {
        "encoding": {
          "x": {"field": "x", "type": "quantitative", "scale": {"domain": [-5.45, 5.35], "nice": false, "zero": false}, "axis": {"values": [-5, -2.5, 0, 2.5, 5], "format": ".1f", "labelExpr": "replace(datum.label, '\u2212', '-')", "title": "Dim.1 (7.01%)", "titleX": 421, "titleY": -17, "titleAlign": "center", "titleBaseline": "middle"}},
          "y": {"field": "y", "type": "quantitative", "scale": {"domain": [-3.95, 4.12], "nice": false, "zero": false}, "axis": {"values": [-2, 0, 2, 4], "format": "d", "labelExpr": "replace(datum.label, '\u2212', '-')", "title": "Dim.2 (6.64%)", "titleX": 47, "titleY": 80, "titleAngle": 270, "titleAlign": "center", "titleBaseline": "middle"}}
        },
        "layer": [
          {"data": {"name": "ell"}, "mark": {"type": "line", "interpolate": "cardinal-closed", "color": "#333333", "strokeWidth": 1}, "encoding": {"order": {"field": "o", "type": "quantitative"}, "strokeDash": {"field": "e", "type": "nominal", "scale": {"domain": ["s", "d"], "range": [[1, 0], [3, 3]]}, "legend": null}}},
          {"data": {"name": "D"}, "mark": {"type": "point", "filled": true, "opacity": 1, "size": 85, "strokeWidth": 1},
           "encoding": {
             "fill": {"field": "c", "type": "nominal", "scale": {"domain": ["Other", "Unknown"], "range": ["#0a6fc6", "transparent"]}, "legend": {"title": null, "legendX": 162, "legendY": 608, "columnPadding": 16}},
             "stroke": {"field": "c", "type": "nominal", "scale": {"domain": ["Other", "Unknown"], "range": ["#0a6fc6", "#8c8c8c"]}, "legend": {"title": null, "legendX": 162, "legendY": 608, "columnPadding": 16}},
             "shape": {"field": "c", "type": "nominal", "scale": {"domain": ["Other", "Unknown"], "range": ["circle", "triangle-up"]}, "legend": {"title": null, "legendX": 162, "legendY": 608, "columnPadding": 16}}
           }},
          {"data": {"name": "LD"}, "transform": [{"calculate": "length(datum.t)*0.0686+0.146", "as": "hw"}, {"calculate": "datum.x-datum.hw", "as": "x1"}, {"calculate": "datum.x+datum.hw", "as": "x2"}, {"calculate": "datum.y-0.125", "as": "y1"}, {"calculate": "datum.y+0.125", "as": "y2"}],
           "mark": {"type": "rect", "cornerRadius": 2},
           "encoding": {"x": {"field": "x1", "type": "quantitative"}, "x2": {"field": "x2"}, "y": {"field": "y1", "type": "quantitative"}, "y2": {"field": "y2"},
             "fill": {"condition": [{"test": "indexof(['Motorised road vehicle','Non-motorised road vehicle','Intermediate','Seal-induced'], datum.t) >= 0", "value": "#3fa8c6"}, {"test": "indexof(['Manual watercraft','Motorboat','Active','Other'], datum.t) >= 0", "value": "#0b6fc8"}, {"test": "indexof(['Aerial vehicle','Passive','Birds'], datum.t) >= 0", "value": "#27a888"}, {"test": "datum.t == 'None'", "value": "#0c5a9c"}, {"test": "datum.t == 'Weather'", "value": "#cb6d2e"}, {"test": "datum.t == 'Unknown'", "value": "#ffffff"}], "value": "#454545"},
             "stroke": {"condition": {"test": "datum.t == 'Unknown'", "value": "#999999"}, "value": "transparent"}}},
          {"data": {"name": "LD"}, "mark": {"type": "text", "fontSize": 13.5}, "encoding": {"text": {"field": "t", "type": "nominal"}, "color": {"condition": {"test": "datum.t == 'Unknown'", "value": "#333333"}, "value": "#ffffff"}}}
        ]
      },
      {"data": {"name": "T"}, "transform": [{"filter": "datum.p == 'D'"}], "mark": {"type": "text", "fontSize": 21, "fontWeight": "bold", "align": "left", "baseline": "middle", "color": "#111111"}, "encoding": {"text": {"field": "k", "type": "nominal"}, "x": {"datum": -6.08}, "y": {"datum": 4.42}}},
      {"data": {"name": "T"}, "transform": [{"filter": "datum.p == 'D'"}], "mark": {"type": "text", "font": "Roboto Condensed, DejaVu Sans Condensed, Roboto", "fontSize": 20, "align": "left", "baseline": "middle", "color": "#222222"}, "encoding": {"text": {"field": "t", "type": "nominal"}, "x": {"datum": -5.057}, "y": {"datum": 4.42}}}
    ]
  }
]
}
